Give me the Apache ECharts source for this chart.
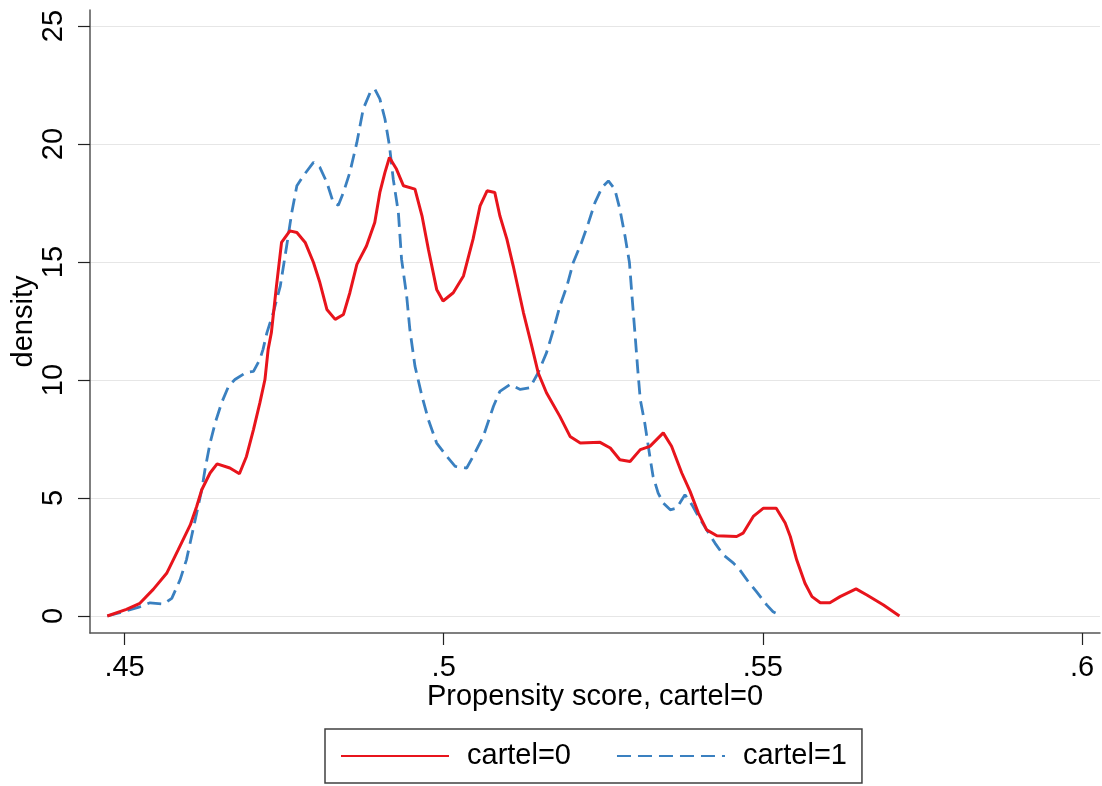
<!DOCTYPE html>
<html>
<head>
<meta charset="utf-8">
<script src="https://cdn.jsdelivr.net/npm/echarts@6/dist/echarts.min.js"></script>
<style>
html,body{margin:0;padding:0;background:#fff;}
#chart{width:1102px;height:786px;}
</style>
</head>
<body>
<div id="chart"></div>
<script>
// ---- data ----
const seriesNames = ['cartel=0', 'cartel=1'];

const cartel0X = [0.4473,0.4503,0.4524,0.4545,0.4566,0.4584,0.4603,0.4613,0.4621,0.4634,0.4645,0.4665,0.4680,0.4691,0.4702,0.4712,0.4720,0.4725,0.4730,0.4738,0.4746,0.4759,0.4770,0.4783,0.4796,0.4806,0.4817,0.4830,0.4843,0.4853,0.4864,0.4879,0.4892,0.4900,0.4908,0.4915,0.4926,0.4937,0.4955,0.4966,0.4976,0.4989,0.4999,0.5015,0.5031,0.5046,0.5057,0.5068,0.5080,0.5088,0.5099,0.5109,0.5125,0.5138,0.5148,0.5161,0.5182,0.5198,0.5214,0.5245,0.5261,0.5276,0.5292,0.5308,0.5323,0.5344,0.5357,0.5373,0.5386,0.5399,0.5412,0.5428,0.5459,0.5469,0.5485,0.5501,0.5521,0.5535,0.5543,0.5553,0.5566,0.5577,0.5590,0.5605,0.5621,0.5646,0.5663,0.5689,0.5714];
const cartel0Y = [0,0.28,0.54,1.13,1.81,2.80,3.86,4.64,5.35,6.06,6.45,6.27,6.03,6.76,7.90,9.03,10.02,11.3,12.0,13.98,15.83,16.32,16.25,15.83,14.98,14.13,12.99,12.57,12.78,13.70,14.90,15.68,16.68,17.95,18.80,19.43,18.94,18.23,18.09,16.96,15.54,13.84,13.35,13.70,14.41,15.97,17.38,18.02,17.95,16.96,15.97,14.83,12.85,11.44,10.31,9.46,8.46,7.61,7.33,7.36,7.12,6.62,6.55,7.05,7.19,7.76,7.19,6.06,5.28,4.36,3.65,3.40,3.37,3.51,4.22,4.57,4.57,3.94,3.37,2.38,1.39,0.82,0.56,0.56,0.82,1.15,0.89,0.47,0];

const cartel1X = [0.4473,0.4498,0.4524,0.4540,0.4561,0.4574,0.4587,0.4597,0.4605,0.4613,0.4621,0.4626,0.4634,0.4642,0.4652,0.4663,0.4673,0.4691,0.4702,0.4712,0.4717,0.4723,0.4733,0.4744,0.4754,0.4762,0.4770,0.4780,0.4796,0.4806,0.4817,0.4827,0.4835,0.4843,0.4853,0.4864,0.4874,0.4885,0.4892,0.4900,0.4908,0.4915,0.4921,0.4929,0.4934,0.4942,0.4947,0.4955,0.4966,0.4976,0.4989,0.5005,0.5018,0.5036,0.5046,0.5062,0.5078,0.5088,0.5104,0.5120,0.5135,0.5148,0.5161,0.5172,0.5182,0.5193,0.5203,0.5216,0.5227,0.5237,0.5248,0.5258,0.5268,0.5276,0.5284,0.5291,0.5295,0.5300,0.5304,0.5308,0.5315,0.5323,0.5328,0.5336,0.5344,0.5355,0.5365,0.5378,0.5389,0.5399,0.5412,0.5425,0.5438,0.5454,0.5464,0.5477,0.5490,0.5506,0.5516,0.5527];
const cartel1Y = [0,0.18,0.39,0.56,0.51,0.75,1.53,2.38,3.37,4.36,5.35,6.20,7.33,8.18,9.03,9.74,10.02,10.33,10.37,10.87,11.3,12.0,12.85,13.98,15.68,17.10,18.23,18.65,19.22,19.01,18.37,17.52,17.41,17.95,18.80,20.07,21.49,22.20,22.33,21.91,21.06,19.93,18.51,17.10,15.12,13.56,12.14,10.59,9.31,8.32,7.33,6.76,6.34,6.27,6.76,7.61,8.89,9.52,9.81,9.60,9.67,10.31,11.15,12.14,13.13,13.98,14.98,15.83,16.68,17.52,18.16,18.44,18.09,17.24,16.11,14.98,13.56,11.86,10.45,9.17,8.18,6.76,5.92,5.21,4.79,4.50,4.57,5.14,4.71,4.22,3.65,3.09,2.59,2.24,1.95,1.46,1.03,0.47,0.18,0.04];

const xTicks = [0.45, 0.5, 0.55, 0.6];
const xTickLabels = ['.45', '.5', '.55', '.6'];
const yTicks = [0, 5, 10, 15, 20, 25];
const yTickLabels = ['0', '5', '10', '15', '20', '25'];
const xTitle = 'Propensity score, cartel=0';
const yTitle = 'density';

// ---- chart ----
const pairs = (xs, ys) => xs.map((x, i) => [x, ys[i]]);
const FONT = 'Liberation Sans, Arial, sans-serif';
const RED = '#e8141c';
const BLUE = '#3a80c0';

const chart = echarts.init(document.getElementById('chart'), null, {renderer: 'canvas'});
chart.setOption({
  animation: false,
  backgroundColor: '#ffffff',
  textStyle: {fontFamily: FONT},
  grid: {left: 90, right: 2, top: 10, bottom: 153, containLabel: false, outerBoundsMode: 'none'},
  xAxis: {
    type: 'value',
    min: 0.44459, max: 0.60282,
    name: xTitle, nameLocation: 'middle', nameGap: 49, nameMoveOverlap: false,
    nameTextStyle: {fontSize: 29, color: '#000', fontFamily: FONT},
    axisLine: {show: true, onZero: false, lineStyle: {color: '#555', width: 1.5}},
    axisTick: {show: true, length: 12, customValues: xTicks, lineStyle: {color: '#222', width: 1.2}},
    axisLabel: {customValues: xTicks, margin: 20, fontSize: 29, color: '#000', fontFamily: FONT,
      formatter: v => { const i = xTicks.findIndex(t => Math.abs(t - v) < 1e-9); return i >= 0 ? xTickLabels[i] : ''; }},
    splitLine: {show: false}
  },
  yAxis: {
    type: 'value',
    min: -0.72, max: 25.68,
    name: yTitle, nameLocation: 'middle', nameGap: 52, nameMoveOverlap: false,
    nameTextStyle: {fontSize: 29, color: '#000', fontFamily: FONT},
    axisLine: {show: true, onZero: false, lineStyle: {color: '#555', width: 1.5}},
    axisTick: {show: true, length: 12, customValues: yTicks, lineStyle: {color: '#222', width: 1.2}},
    axisLabel: {customValues: yTicks, rotate: 90, margin: 22, fontSize: 29, color: '#000', fontFamily: FONT,
      formatter: v => { const i = yTicks.findIndex(t => Math.abs(t - v) < 1e-9); return i >= 0 ? yTickLabels[i] : ''; }},
    splitLine: {show: true, lineStyle: {color: '#e6e6e6', width: 1.2}}
  },
  legend: {
    data: seriesNames,
    left: 325, top: 729,
    orient: 'horizontal',
    padding: [12, 15, 12, 15],
    itemGap: 45,
    itemWidth: 108, itemHeight: 14,
    itemStyle: {opacity: 0, borderWidth: 0},
    borderColor: '#404040', borderWidth: 1.5, borderRadius: 0,
    textStyle: {fontSize: 29, color: '#000', fontFamily: FONT, padding: [0, 0, 0, 13], lineHeight: 30}
  },
  series: [
    {name: seriesNames[0], type: 'line', data: pairs(cartel0X, cartel0Y), symbol: 'none', smooth: false,
      lineStyle: {color: RED, width: 3}, itemStyle: {color: RED}, z: 3},
    {name: seriesNames[1], type: 'line', data: pairs(cartel1X, cartel1Y), symbol: 'none', smooth: false,
      lineStyle: {color: BLUE, width: 2.8, type: [14, 7]}, itemStyle: {color: BLUE}, z: 2}
  ]
});
</script>
</body>
</html>
